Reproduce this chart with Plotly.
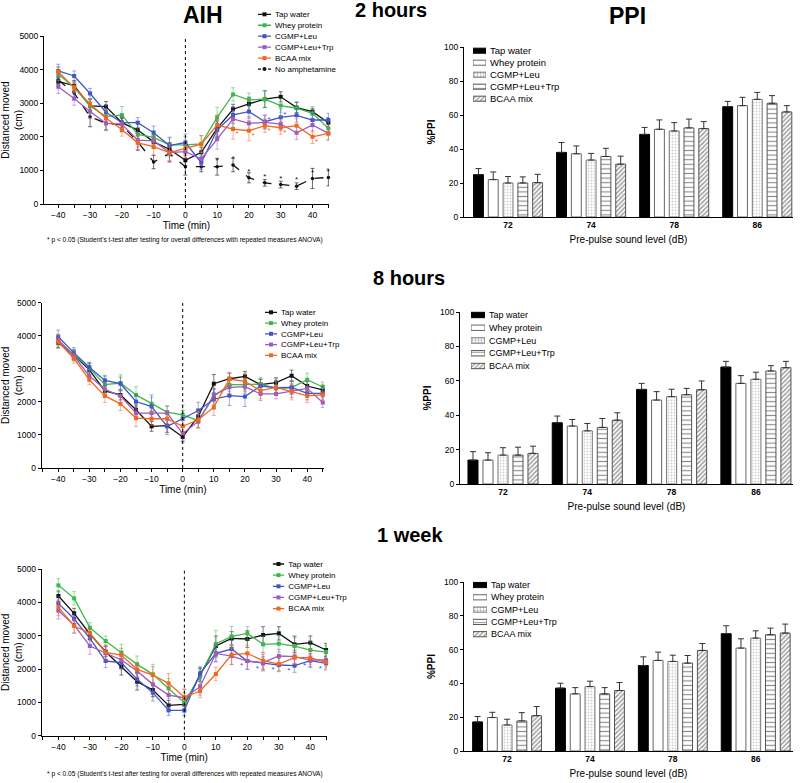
import plotly.graph_objects as go

W, H = 800, 783

# ---------------- data ----------------
time_min = [-40, -35, -30, -25, -20, -15, -10, -5, 0, 5, 10, 15, 20, 25, 30, 35, 40, 45]
groups = ["Tap water", "Whey protein", "CGMP+Leu", "CGMP+Leu+Trp", "BCAA mix"]
no_amph_name = "No amphetamine"
pp_levels = ["72", "74", "78", "86"]

# AIH 2 hours (distance moved, cm)
tap_2h = [3650, 3520, 2920, 2900, 2420, 2200, 1850, 1630, 1300, 1540, 2250, 2820, 2980, 3120, 3190, 2870, 2750, 2420]
whey_2h = [3870, 3470, 2920, 2600, 2650, 2070, 1980, 1760, 1760, 1790, 2580, 3260, 3100, 3120, 2930, 2850, 2700, 2250]
leu_2h = [3960, 3810, 3290, 2730, 2420, 2420, 2120, 1740, 1830, 1230, 2200, 2650, 2750, 2450, 2580, 2640, 2500, 2500]
trp_2h = [3490, 3140, 2750, 2400, 2380, 1900, 1880, 1530, 1560, 1340, 1930, 2530, 2400, 2430, 2380, 2120, 2350, 2100]
bcaa_2h = [3940, 3470, 2980, 2550, 2220, 1820, 1710, 1530, 1650, 1780, 2350, 2230, 2180, 2330, 2270, 2330, 2000, 2100]
noamph_2h = [3690, 3300, 2600, 2400, 2350, 1850, 1250, 1500, 1110, 1110, 1110, 1160, 780, 630, 580, 530, 760, 790]

tap_2h_err = [100, 150, 200, 150, 150, 250, 200, 200, 150, 150, 250, 150, 200, 250, 150, 150, 100, 150]
whey_2h_err = [200, 150, 150, 200, 250, 200, 200, 200, 250, 250, 300, 200, 200, 250, 200, 200, 200, 200]
leu_2h_err = [200, 150, 150, 200, 200, 150, 200, 250, 250, 200, 250, 250, 200, 200, 250, 200, 200, 200]
trp_2h_err = [200, 200, 200, 200, 200, 200, 200, 250, 200, 200, 300, 250, 200, 200, 200, 200, 200, 200]
bcaa_2h_err = [150, 150, 150, 200, 200, 200, 250, 250, 250, 250, 300, 300, 300, 200, 200, 200, 200, 200]
noamph_2h_err = [100, 200, 300, 200, 200, 250, 200, 250, 250, 150, 250, 200, 150, 100, 100, 100, 300, 250]

# AIH 8 hours
tap_8h = [3790, 3420, 2970, 2330, 2210, 1760, 1260, 1280, 940, 1560, 2550, 2700, 2770, 2520, 2580, 2790, 2480, 2360]
whey_8h = [3850, 3440, 3020, 2520, 2570, 2210, 1940, 1690, 1610, 1430, 2160, 2520, 2520, 2540, 2410, 2430, 2670, 2450]
leu_8h = [3970, 3490, 3050, 2650, 2550, 2010, 1860, 1260, 1490, 1740, 2080, 2190, 2160, 2480, 2430, 2440, 2260, 2260]
trp_8h = [3870, 3390, 2790, 2380, 2180, 1660, 1660, 1660, 1040, 1410, 2210, 2440, 2460, 2240, 2240, 2330, 2410, 1980]
bcaa_8h = [3820, 3320, 2670, 2180, 1940, 1510, 1490, 1490, 1260, 1460, 1840, 2690, 2620, 2340, 2440, 2310, 2180, 2210]

tap_8h_err = [150, 150, 200, 150, 150, 150, 150, 200, 150, 200, 280, 170, 150, 170, 150, 170, 150, 150]
whey_8h_err = [200, 150, 150, 250, 250, 250, 200, 200, 300, 200, 250, 200, 200, 200, 200, 200, 200, 150]
leu_8h_err = [200, 150, 150, 150, 200, 200, 350, 250, 250, 250, 300, 300, 300, 200, 200, 200, 200, 200]
trp_8h_err = [150, 150, 150, 200, 200, 200, 200, 200, 200, 200, 200, 200, 200, 200, 150, 200, 200, 150]
bcaa_8h_err = [200, 150, 150, 200, 200, 250, 200, 200, 250, 250, 250, 200, 250, 250, 250, 250, 200, 200]

# AIH 1 week
tap_1w = [4190, 3670, 3050, 2520, 2070, 1620, 1370, 910, 940, 1820, 2690, 2920, 2900, 3020, 3070, 2740, 2790, 2570]
whey_1w = [4510, 4120, 3240, 2840, 2490, 2140, 1840, 1420, 990, 1790, 2750, 2980, 3070, 2740, 2760, 2690, 2570, 2510]
leu_1w = [3970, 3500, 2920, 2240, 2190, 1690, 1290, 760, 760, 1870, 2470, 2600, 2240, 2170, 2120, 2100, 2250, 2170]
trp_1w = [3750, 3320, 2690, 2470, 2270, 1940, 1540, 1220, 1140, 1470, 2470, 2390, 2240, 2190, 2390, 2370, 2270, 2270]
bcaa_1w = [3850, 3290, 3070, 2500, 2420, 1990, 1820, 1570, 1150, 1340, 1850, 2430, 2470, 2250, 2150, 2340, 2340, 2200]

tap_1w_err = [150, 150, 150, 150, 250, 250, 200, 150, 150, 200, 300, 200, 250, 250, 200, 250, 200, 200]
whey_1w_err = [200, 200, 150, 150, 250, 250, 300, 300, 300, 250, 400, 300, 200, 250, 250, 250, 250, 200]
leu_1w_err = [200, 150, 200, 200, 200, 200, 250, 150, 150, 200, 250, 250, 250, 200, 200, 200, 200, 200]
trp_1w_err = [250, 250, 250, 250, 250, 200, 250, 250, 250, 250, 250, 250, 250, 250, 200, 200, 200, 200]
bcaa_1w_err = [250, 200, 150, 200, 200, 200, 250, 300, 250, 200, 200, 300, 250, 250, 200, 200, 200, 200]

# PPI (%)
ppi_2h = [[24.9, 38.0, 48.6, 64.9], [22.0, 37.2, 51.6, 65.5], [20.0, 33.5, 50.6, 69.2],
          [20.0, 35.6, 52.4, 66.9], [20.2, 31.1, 52.0, 61.8]]
ppi_2h_err = [[3.6, 5.8, 4.1, 3.1], [4.5, 4.6, 5.5, 4.9], [3.8, 3.9, 4.9, 4.1],
              [3.6, 4.8, 5.2, 4.5], [4.9, 4.7, 4.1, 3.7]]
ppi_8h = [[13.9, 35.6, 55.0, 68.0], [13.9, 33.7, 48.8, 58.5], [16.8, 30.9, 50.8, 60.9],
          [16.8, 32.9, 51.9, 65.7], [17.8, 37.1, 54.8, 67.6]]
ppi_8h_err = [[4.9, 3.9, 3.5, 3.3], [4.3, 3.8, 4.9, 4.5], [4.3, 4.3, 4.3, 4.1],
              [4.6, 5.2, 3.7, 3.1], [4.2, 4.3, 5.1, 3.7]]
ppi_1w = [[17.2, 37.2, 50.6, 69.4], [19.8, 33.8, 53.6, 60.9], [15.4, 38.1, 53.0, 66.8],
          [17.8, 33.8, 52.0, 68.8], [20.9, 35.8, 59.5, 69.8]]
ppi_1w_err = [[3.2, 2.9, 5.1, 4.7], [3.1, 3.7, 4.9, 5.5], [3.4, 3.2, 3.7, 4.3],
              [4.9, 3.7, 4.5, 3.9], [5.4, 4.7, 4.1, 5.3]]

# significance marks (* p<0.05): series -> time indices
stars_2h = {"noamph": [10, 11, 12, 13, 14, 15, 16, 17], 2: [13, 14], 4: [11, 12, 13, 14, 16]}
stars_1w = {2: [12, 13, 14, 15, 16, 17]}

# ---------------- style ----------------
FONT = "Liberation Sans, Arial, sans-serif"
line_colors = ["#111111", "#3cb94a", "#3f55c9", "#9a5bc4", "#f4661f"]
err_colors = ["rgba(17,17,17,0.55)", "rgba(60,185,74,0.5)", "rgba(63,85,201,0.5)",
              "rgba(154,91,196,0.5)", "rgba(244,102,31,0.5)"]
bar_fill = ["#000000", "#ffffff", "#ffffff", "#ffffff", "#ffffff"]
bar_line = ["#000000", "#666666", "#777777", "#555555", "#555555"]
bar_shape = ["", "", ".", "-", "/"]
bar_fg = ["#000000", "#000000", "#a0a0a0", "#1a1a1a", "#333333"]
bar_size = [4, 4, 3, 4.6, 3.2]
bar_sol = [0.3, 0.3, 0.3, 0.25, 0.45]


def PX(a):
    return a / W


def PY(b):
    return 1 - b / H


fig = go.Figure()
layout = dict(
    width=W, height=H, margin=dict(l=0, r=0, t=0, b=0, autoexpand=False),
    paper_bgcolor="white", plot_bgcolor="white",
    font=dict(family=FONT, color="#000"),
    showlegend=False, barmode="group", bargap=0.11, bargroupgap=0.33,
)
shapes = []
annotations = []


def ax_name(k, kind):
    return kind + ("axis" if k == 1 else "axis%d" % k)


def ref(k, kind):
    return kind if k == 1 else kind + str(k)


# ---------- line panels ----------
line_panels = [
    dict(k=1, xs=(44, 329), ys=(36, 204), xr=(-44.5, 45.2),
         data=[tap_2h, whey_2h, leu_2h, trp_2h, bcaa_2h],
         err=[tap_2h_err, whey_2h_err, leu_2h_err, trp_2h_err, bcaa_2h_err],
         noamph=(noamph_2h, noamph_2h_err)),
    dict(k=3, xs=(41.7, 324), ys=(302.7, 468), xr=(-45.3, 45.4),
         data=[tap_8h, whey_8h, leu_8h, trp_8h, bcaa_8h],
         err=[tap_8h_err, whey_8h_err, leu_8h_err, trp_8h_err, bcaa_8h_err], noamph=None),
    dict(k=5, xs=(41.7, 326.7), ys=(569, 735.7), xr=(-45.3, 45.2),
         data=[tap_1w, whey_1w, leu_1w, trp_1w, bcaa_1w],
         err=[tap_1w_err, whey_1w_err, leu_1w_err, trp_1w_err, bcaa_1w_err], noamph=None),
]

for p in line_panels:
    k = p["k"]
    xa, ya = ref(k, "x"), ref(k, "y")
    layout[ax_name(k, "x")] = dict(
        domain=[PX(p["xs"][0]), PX(p["xs"][1])], anchor=ya, range=list(p["xr"]),
        automargin=False,
        showline=True, linecolor="black", linewidth=1, showgrid=False, zeroline=False,
        ticks="outside", ticklen=3, tickwidth=1, tickcolor="black",
        tickmode="linear", tick0=0, dtick=10, tickfont=dict(size=8.5),
        minor=dict(dtick=5, tick0=0, ticks="outside", ticklen=3, tickcolor="black"),
        title=dict(text="Time (min)", font=dict(size=10), standoff=2),
    )
    layout[ax_name(k, "y")] = dict(
        domain=[PY(p["ys"][1]), PY(p["ys"][0])], anchor=xa, range=[0, 5000],
        automargin=False,
        showline=True, linecolor="black", linewidth=1, showgrid=False, zeroline=False,
        ticks="outside", ticklen=3, tickcolor="black", tickmode="linear", tick0=0, dtick=1000,
        tickfont=dict(size=8.5),
        title=dict(text="Distanced moved<br>(cm)", font=dict(size=10), standoff=4),
    )
    shapes.append(dict(type="line", xref=xa, yref=ya, x0=0, x1=0, y0=0, y1=5000,
                       line=dict(color="black", width=1, dash="dot")))
    if p["noamph"] is not None:
        v, e = p["noamph"]
        fig.add_trace(go.Scatter(
            x=time_min, y=v, xaxis=xa, yaxis=ya, mode="lines+markers", name=no_amph_name,
            line=dict(color="#111", width=1.3, dash="dash"),
            marker=dict(symbol="circle", size=3.5, color="#111"),
            error_y=dict(type="data", array=e, color="rgba(17,17,17,0.6)", thickness=1, width=2),
            cliponaxis=False))
    for i, (vals, errs) in enumerate(zip(p["data"], p["err"])):
        fig.add_trace(go.Scatter(
            x=time_min, y=vals, xaxis=xa, yaxis=ya, mode="lines+markers", name=groups[i],
            line=dict(color=line_colors[i], width=1.3),
            marker=dict(symbol="square", size=4, color=line_colors[i]),
            error_y=dict(type="data", array=errs, color=err_colors[i], thickness=1, width=2),
            cliponaxis=False))


def add_stars(k, series_vals, idxs, color, dx, dy):
    fig.add_trace(go.Scatter(
        x=[time_min[j] + dx for j in idxs], y=[series_vals[j] + dy for j in idxs],
        xaxis=ref(k, "x"), yaxis=ref(k, "y"), mode="text", text=["*"] * len(idxs),
        textfont=dict(size=8, color=color), hoverinfo="skip", cliponaxis=False))


add_stars(1, noamph_2h, stars_2h["noamph"], "#111", 0, 170)
add_stars(1, leu_2h, stars_2h[2], line_colors[2], 1.3, 60)
add_stars(1, bcaa_2h, stars_2h[4], line_colors[4], 1.3, -150)
add_stars(5, leu_1w, stars_1w[2], line_colors[2], -1.8, -160)

# ---------- bar panels ----------
bar_panels = [
    dict(k=2, xs=(464, 793), ys=(47, 217), xr=(-0.53, 3.43), data=ppi_2h, err=ppi_2h_err),
    dict(k=4, xs=(460, 793), ys=(312, 484), xr=(-0.51, 3.44), data=ppi_8h, err=ppi_8h_err),
    dict(k=6, xs=(464, 793), ys=(582, 751), xr=(-0.52, 3.45), data=ppi_1w, err=ppi_1w_err),
]
xpos = list(range(len(pp_levels)))
for p in bar_panels:
    k = p["k"]
    xa, ya = ref(k, "x"), ref(k, "y")
    layout[ax_name(k, "x")] = dict(
        domain=[PX(p["xs"][0]), PX(p["xs"][1])], anchor=ya, range=list(p["xr"]),
        automargin=False,
        showline=True, linecolor="black", linewidth=1, showgrid=False, zeroline=False,
        tickmode="array", tickvals=xpos, ticktext=["<b>%s</b>" % t for t in pp_levels],
        ticks="", tickfont=dict(size=8.5),
        title=dict(text="Pre-pulse sound level (dB)", font=dict(size=10), standoff=6),
    )
    layout[ax_name(k, "y")] = dict(
        domain=[PY(p["ys"][1]), PY(p["ys"][0])], anchor=xa, range=[0, 100],
        automargin=False,
        showline=True, linecolor="black", linewidth=1, showgrid=False, zeroline=False,
        ticks="outside", ticklen=3, tickcolor="black", tickmode="linear", tick0=0, dtick=20,
        tickfont=dict(size=8.5),
        title=dict(text="<b>%PPI</b>", font=dict(size=10), standoff=6),
    )
    for i in range(len(groups)):
        fig.add_trace(go.Bar(
            x=xpos, y=p["data"][i], xaxis=xa, yaxis=ya, name=groups[i],
            marker=dict(color=bar_fill[i], line=dict(color=bar_line[i], width=1),
                        pattern=dict(shape=bar_shape[i], fgcolor=bar_fg[i], bgcolor=bar_fill[i],
                                     size=bar_size[i], solidity=bar_sol[i])),
            error_y=dict(type="data", array=p["err"][i], arrayminus=[0] * len(pp_levels),
                         symmetric=False, color="#333", thickness=1, width=3)))

# ---------- compact legends (drawn on small helper axes) ----------
legends = [
    dict(k=7, kind="line", xs=(258, 271), y0=14.3, sp=10.95, names=groups + [no_amph_name], fs=8),
    dict(k=8, kind="bar", xs=(473, 486), y0=50.7, sp=12.0, names=groups, fs=9.5),
    dict(k=9, kind="line", xs=(265, 277), y0=312.3, sp=10.75, names=groups, fs=8),
    dict(k=10, kind="bar", xs=(471, 485), y0=315, sp=12.75, names=groups, fs=9),
    dict(k=11, kind="line", xs=(272.7, 284.3), y0=564, sp=11.15, names=groups, fs=8),
    dict(k=12, kind="bar", xs=(473, 487), y0=585, sp=12.3, names=groups, fs=9),
]
for L in legends:
    k = L["k"]
    n = len(L["names"])
    xa, ya = ref(k, "x"), ref(k, "y")
    top = L["y0"] - L["sp"] / 2
    bot = L["y0"] + L["sp"] * (n - 0.5)
    layout[ax_name(k, "x")] = dict(domain=[PX(L["xs"][0]), PX(L["xs"][1])], anchor=ya,
                                   range=[0, 1], visible=False, fixedrange=True,
                                   automargin=False)
    layout[ax_name(k, "y")] = dict(domain=[PY(bot), PY(top)], anchor=xa, side="right",
                                   range=[n - 0.5, -0.5], showline=False, showgrid=False,
                                   zeroline=False, ticks="", tickmode="array",
                                   tickvals=list(range(n)), ticktext=L["names"],
                                   tickfont=dict(size=L["fs"]), ticklabelstandoff=3,
                                   fixedrange=True, automargin=False)
    rows = list(range(n))
    if L["kind"] == "line":
        for i, nm in enumerate(L["names"]):
            col = line_colors[i] if i < len(groups) else "#111"
            dash = "solid" if i < len(groups) else "3px,2px"
            sym = "square" if i < len(groups) else "circle"
            fig.add_trace(go.Scatter(
                x=[0, 1], y=[rows[i]] * 2, xaxis=xa, yaxis=ya, mode="lines",
                line=dict(color=col, width=1.3, dash=dash), hoverinfo="skip",
                cliponaxis=False))
            fig.add_trace(go.Scatter(
                x=[0.5], y=[rows[i]], xaxis=xa, yaxis=ya, mode="markers",
                marker=dict(symbol=sym, size=4, color=col), hoverinfo="skip",
                cliponaxis=False))
    else:
        fig.add_trace(go.Bar(
            x=[1] * n, y=rows, orientation="h", xaxis=xa, yaxis=ya, width=0.42,
            marker=dict(color=bar_fill, line=dict(color=bar_line, width=1),
                        pattern=dict(shape=bar_shape, fgcolor=bar_fg, bgcolor=bar_fill,
                                     size=bar_size, solidity=bar_sol)),
            hoverinfo="skip"))

# ---------- titles and notes ----------
def txt(s, x, y, size, bold=False):
    annotations.append(dict(text=("<b>%s</b>" % s) if bold else s, x=PX(x), y=PY(y),
                            xref="paper", yref="paper", showarrow=False,
                            xanchor="center", yanchor="middle", font=dict(size=size)))


txt("AIH", 203, 15, 23, True)
txt("PPI", 627, 16, 23, True)
txt("2 hours", 391, 10, 20, True)
txt("8 hours", 409, 278, 20, True)
txt("1 week", 410, 535, 20, True)
note = "* p < 0.05 (Student's t-test after testing for overall differences with repeated measures ANOVA)"
txt(note, 185, 240, 6.6)
txt(note, 185, 774, 6.6)

layout["shapes"] = shapes
layout["annotations"] = annotations
fig.update_layout(**layout)
fig.write_html("out.html", config={"displayModeBar": False},
               post_script="document.body.style.margin='0';document.body.style.padding='0';")
